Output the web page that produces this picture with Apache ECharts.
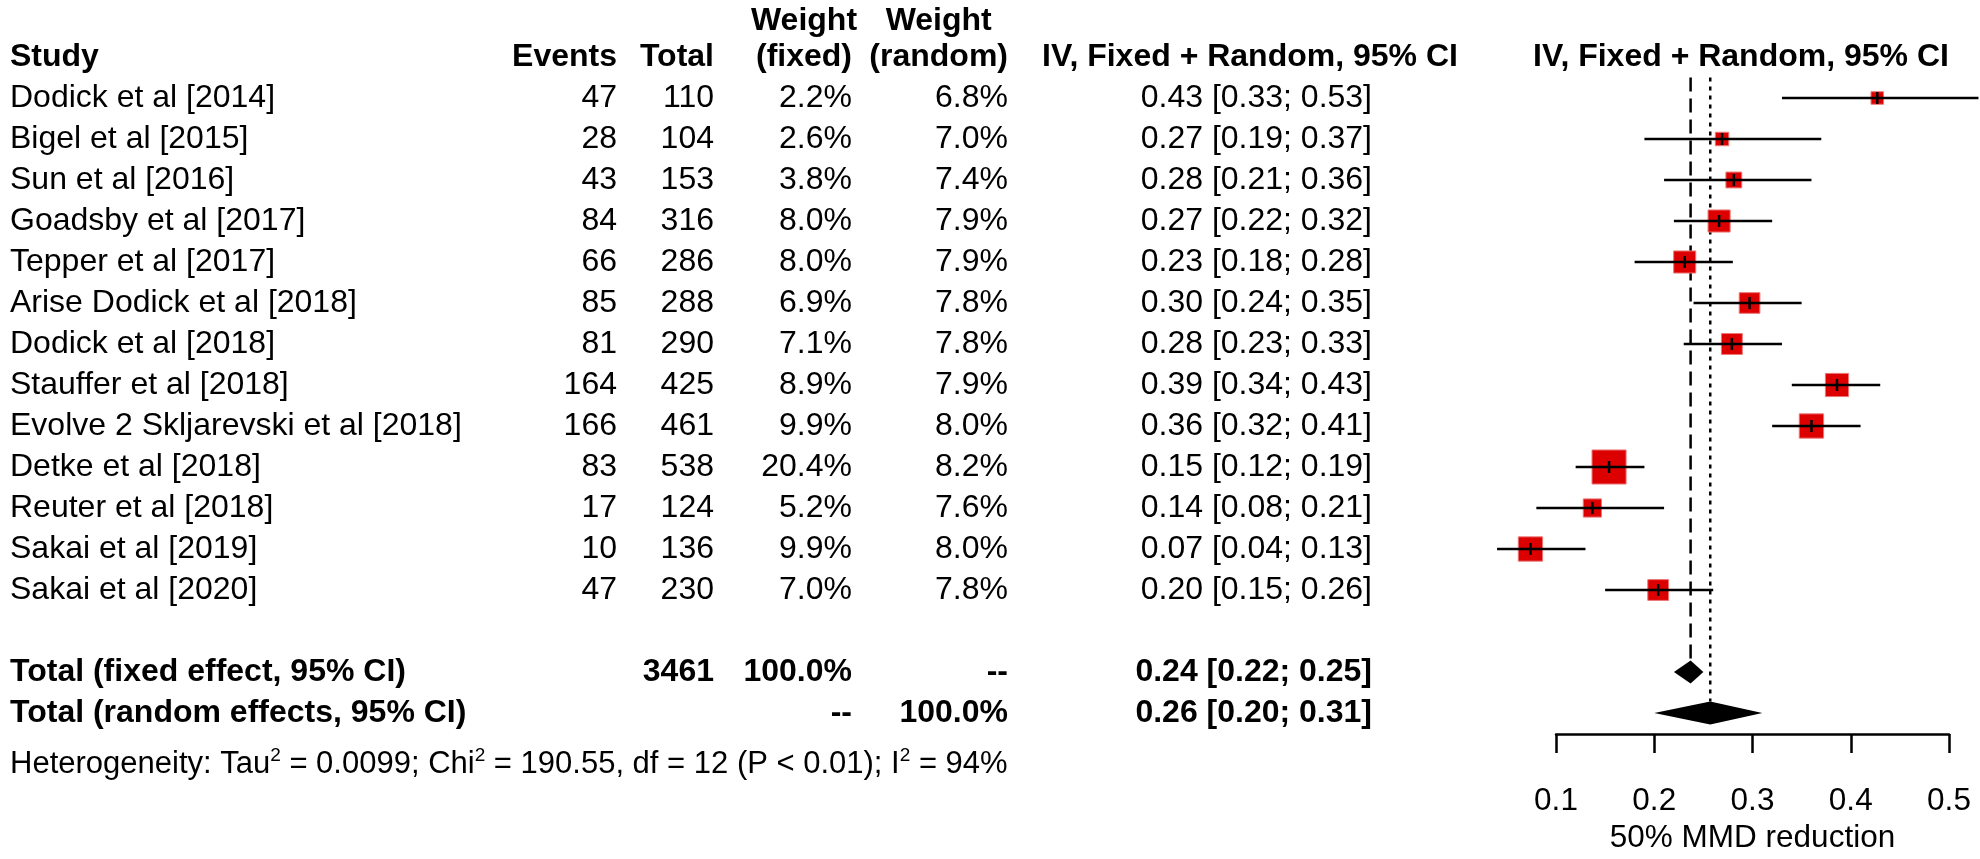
<!DOCTYPE html>
<html>
<head>
<meta charset="utf-8">
<title>Forest plot - 50% MMD reduction</title>
<script src="https://cdn.jsdelivr.net/npm/echarts@6/dist/echarts.min.js"></script>
<style>
  html, body { margin: 0; padding: 0; background: #fff; }
  #chart { width: 1980px; height: 859px; }
</style>
</head>
<body>
<div id="chart"></div>
<script>
// ---- data ----
var studies = ['Dodick et al [2014]', 'Bigel et al [2015]', 'Sun et al [2016]', 'Goadsby et al [2017]',
  'Tepper et al [2017]', 'Arise Dodick et al [2018]', 'Dodick et al [2018]', 'Stauffer et al [2018]',
  'Evolve 2 Skljarevski et al [2018]', 'Detke et al [2018]', 'Reuter et al [2018]', 'Sakai et al [2019]',
  'Sakai et al [2020]'];
var events   = [47, 28, 43, 84, 66, 85, 81, 164, 166, 83, 17, 10, 47];
var totals   = [110, 104, 153, 316, 286, 288, 290, 425, 461, 538, 124, 136, 230];
var wFixed   = [2.2, 2.6, 3.8, 8.0, 8.0, 6.9, 7.1, 8.9, 9.9, 20.4, 5.2, 9.9, 7.0];
var wRandom  = [6.8, 7.0, 7.4, 7.9, 7.9, 7.8, 7.8, 7.9, 8.0, 8.2, 7.6, 8.0, 7.8];
var est      = [0.427, 0.269, 0.281, 0.266, 0.231, 0.297, 0.279, 0.386, 0.360, 0.154, 0.137, 0.074, 0.204];
var lower    = [0.33, 0.19, 0.21, 0.22, 0.18, 0.24, 0.23, 0.34, 0.32, 0.12, 0.08, 0.04, 0.15];
var upper    = [0.53, 0.37, 0.36, 0.32, 0.28, 0.35, 0.33, 0.43, 0.41, 0.19, 0.21, 0.13, 0.26];

var pooledLabels  = ['Total (fixed effect, 95% CI)', 'Total (random effects, 95% CI)'];
var pooledTotal   = ['3461', '--'];
var pooledWFixed  = ['100.0%', '--'];
var pooledWRandom = ['--', '100.0%'];
var pooledEst     = [0.237, 0.257];
var pooledLower   = [0.22, 0.20];
var pooledUpper   = [0.25, 0.31];

var hetTau2 = '0.0099';
var hetChi2 = '190.55';
var hetDf = 12;
var hetP = 'P < 0.01';
var hetI2 = '94%';

var axisMin = 0.1, axisMax = 0.5, axisStep = 0.1;
var axisTitle = '50% MMD reduction';
var ciHeader = 'IV, Fixed + Random, 95% CI';

// ---- layout ----
var FONT = '"Liberation Sans", Arial, sans-serif';
var FS = 32, FS_BOLD = 32;
var ROW_FIXED = 14, ROW_RANDOM = 15, ROW_HET = 16.25, ROW_W1 = -1.88;
var COL = { study: 10, events: 617, total: 714, wf: 852, wr: 1008, ci: 1372, ciHead: 1250, plotHead: 1741 };

var ctx = document.createElement('canvas').getContext('2d');
function textWidth(s, bold) {
  ctx.font = (bold ? 'bold ' + FS_BOLD : FS) + 'px ' + FONT;
  return ctx.measureText(s).width;
}
function ciText(e, l, u) {
  return e.toFixed(2) + ' [' + l.toFixed(2) + '; ' + u.toFixed(2) + ']';
}

// text cells of the table
var cells = [];
function cell(x, row, text, align, bold) {
  cells.push({ x: x, row: row, text: text, align: align, bold: !!bold });
}
cell(COL.study, -1, 'Study', 'left', true);
cell(COL.events, -1, 'Events', 'right', true);
cell(COL.total, -1, 'Total', 'right', true);
var wfc = COL.wf - textWidth('(fixed)', true) / 2;
cell(wfc, ROW_W1, 'Weight', 'center', true);
cell(wfc, -1, '(fixed)', 'center', true);
var wrc = COL.wr - textWidth('(random)', true) / 2;
cell(wrc, ROW_W1, 'Weight', 'center', true);
cell(wrc, -1, '(random)', 'center', true);
cell(COL.ciHead, -1, ciHeader, 'center', true);
cell(COL.plotHead, -1, ciHeader, 'center', true);

studies.forEach(function (s, i) {
  cell(COL.study, i, s, 'left');
  cell(COL.events, i, String(events[i]), 'right');
  cell(COL.total, i, String(totals[i]), 'right');
  cell(COL.wf, i, wFixed[i].toFixed(1) + '%', 'right');
  cell(COL.wr, i, wRandom[i].toFixed(1) + '%', 'right');
  cell(COL.ci, i, ciText(est[i], lower[i], upper[i]), 'right');
});
[ROW_FIXED, ROW_RANDOM].forEach(function (row, j) {
  cell(COL.study, row, pooledLabels[j], 'left', true);
  if (j === 0) cell(COL.total, row, pooledTotal[j], 'right', true);
  cell(COL.wf, row, pooledWFixed[j], 'right', true);
  cell(COL.wr, row, pooledWRandom[j], 'right', true);
  cell(COL.ci, row, ciText(pooledEst[j], pooledLower[j], pooledUpper[j]), 'right', true);
});
var hetText = 'Heterogeneity: Tau{s|2} = ' + hetTau2 + '; Chi{s|2} = ' + hetChi2 + ', df = ' + hetDf +
  ' (' + hetP + '); I{s|2} = ' + hetI2;
cells.push({ x: COL.study, row: ROW_HET, text: hetText, align: 'left', bold: false, rich: true });

var studyData = studies.map(function (s, i) { return [i, est[i], lower[i], upper[i], wFixed[i]]; });
var pooledData = pooledEst.map(function (e, j) { return [ROW_FIXED + j, e, pooledLower[j], pooledUpper[j]]; });
var refData = [[pooledEst[0], -0.5, ROW_FIXED], [pooledEst[1], -0.5, ROW_RANDOM]];
var refDash = [[14, 7], [4, 5]];
var DIAMOND_H = 11.5;

var chart = echarts.init(document.getElementById('chart'), null, { renderer: 'canvas' });

var option = {
  backgroundColor: '#ffffff',
  animation: false,
  grid: [
    { left: 0, top: 0, width: 1980, height: 859 },
    { left: 1556, top: 0, width: 393, height: 734 }
  ],
  xAxis: [
    { gridIndex: 0, type: 'value', min: 0, max: 1980, show: false },
    {
      gridIndex: 1, type: 'value', position: 'bottom', min: axisMin, max: axisMax, interval: axisStep,
      splitLine: { show: false },
      axisLine: { show: true, onZero: false, lineStyle: { color: '#000', width: 2.5 } },
      axisTick: { show: true, inside: false, length: 19, lineStyle: { color: '#000', width: 2.5 } },
      axisLabel: { color: '#000', fontSize: 31.5, fontFamily: FONT, margin: 51,
        formatter: function (v) { return v.toFixed(1); } },
      name: axisTitle, nameLocation: 'middle', nameGap: 88,
      nameTextStyle: { color: '#000', fontSize: 31.5, fontFamily: FONT }
    }
  ],
  yAxis: [
    { gridIndex: 0, type: 'value', inverse: true, min: -2.390, max: 18.561, show: false },
    { gridIndex: 1, type: 'value', inverse: true, min: -2.390, max: 15.512, show: false }
  ],
  series: [
    {
      // reference lines for the pooled estimates
      type: 'custom', xAxisIndex: 1, yAxisIndex: 1, clip: false, silent: true,
      data: refData,
      renderItem: function (params, api) {
        var a = api.coord([api.value(0), api.value(1)]);
        var b = api.coord([api.value(0), api.value(2)]);
        return {
          type: 'line',
          shape: { x1: a[0], y1: a[1], x2: b[0], y2: b[1] - DIAMOND_H },
          style: { stroke: '#000', lineWidth: 2.5, lineDash: refDash[params.dataIndex] }
        };
      }
    },
    {
      // study squares and confidence intervals
      type: 'custom', xAxisIndex: 1, yAxisIndex: 1, clip: false, silent: true,
      data: studyData,
      renderItem: function (params, api) {
        var row = api.value(0);
        var pE = api.coord([api.value(1), row]);
        var pL = api.coord([api.value(2), row]);
        var pH = api.coord([api.value(3), row]);
        var side = 7.1 * Math.sqrt(api.value(4)) + 2;
        return {
          type: 'group',
          children: [
            { type: 'rect', shape: { x: pE[0] - side / 2, y: pE[1] - side / 2, width: side, height: side },
              style: { fill: '#dd0000', stroke: '#ec7777', lineWidth: 1 } },
            { type: 'line', shape: { x1: pL[0], y1: pL[1], x2: pH[0], y2: pH[1] },
              style: { stroke: '#000', lineWidth: 2.5 } },
            { type: 'line', shape: { x1: pE[0], y1: pE[1] - 6, x2: pE[0], y2: pE[1] + 6 },
              style: { stroke: '#000', lineWidth: 2.5 } }
          ]
        };
      }
    },
    {
      // pooled diamonds
      type: 'custom', xAxisIndex: 1, yAxisIndex: 1, clip: false, silent: true,
      data: pooledData,
      renderItem: function (params, api) {
        var row = api.value(0);
        var pE = api.coord([api.value(1), row]);
        var pL = api.coord([api.value(2), row]);
        var pH = api.coord([api.value(3), row]);
        return {
          type: 'polygon',
          shape: { points: [[pL[0], pL[1]], [pE[0], pE[1] - DIAMOND_H], [pH[0], pH[1]], [pE[0], pE[1] + DIAMOND_H]] },
          style: { fill: '#000' }
        };
      }
    },
    {
      // table text
      type: 'custom', xAxisIndex: 0, yAxisIndex: 0, clip: false, silent: true,
      data: cells.map(function (c) { return [c.x, c.row]; }),
      renderItem: function (params, api) {
        var c = cells[params.dataIndex];
        var p = api.coord([api.value(0), api.value(1)]);
        var style = {
          text: c.text, fill: '#000', fontSize: c.rich ? 31 : (c.bold ? FS_BOLD : FS), fontFamily: FONT,
          fontWeight: c.bold ? 'bold' : 'normal', align: c.align, verticalAlign: 'middle'
        };
        if (c.rich) {
          style.rich = { s: { fontSize: 19, fontFamily: FONT, fill: '#000', verticalAlign: 'top', lineHeight: 36 } };
        }
        return { type: 'text', x: p[0], y: p[1], style: style };
      }
    }
  ]
};

chart.setOption(option);
</script>
</body>
</html>
